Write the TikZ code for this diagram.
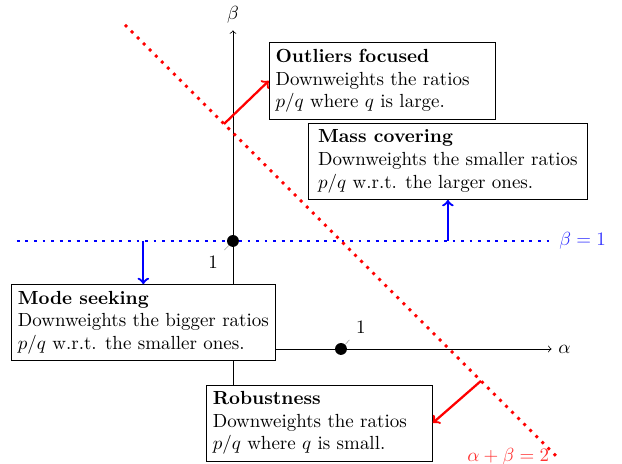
\documentclass[tikz,border=0pt]{standalone}
\usepackage{amsmath}
\usepackage{amssymb}
\usetikzlibrary{positioning}
\usetikzlibrary{calc}

\begin{document}
\begin{tikzpicture}[x=2cm, y=2cm,
    infobox/.style={draw=black, fill=white, align=left},
    dot/.style={circle, fill=black, inner sep=0pt, minimum size=0.22cm},
    bound/.style={line width=1.5pt, dash pattern=on 1.5pt off 3pt},
    push/.style={->, very thick},
    onepin/.style={pin={[pin edge={gray}, pin distance=3pt]#1:$1$}}]
      \useasboundingbox (-2.157,-1.056) rectangle (3.602,3.231);
      % Length of the axes
      \def\axlen{2.95}
      % Draw the axes
      \draw[->] (-1,0) -- (\axlen,0) node[right] (alab) {$\alpha$};
      \draw[->] (0,-1) -- (0,\axlen) node[above] (blab) {$\beta$};
      % The two boundary lines
      \draw[bound, blue] (-2,1) -- (\axlen,1) coordinate (bend) node[right, text=blue!80] (bline) {$\beta=1$};
      \draw[bound, red] (-1,3) -- (3,-1) coordinate (rend) node[left, text=red!80] (rline) {$\alpha+\beta=2$};
      % Points where the arrows start
      \coordinate (ofoc) at (-0.083,2.083);
      \coordinate (robu) at (2.296,-0.296);
      \coordinate (mcov) at (1.99,1);
      \coordinate (mseek) at (-0.83,1);
      % Boxes
      \node[infobox, text width=3.95cm, anchor=west] (outl) at ($(ofoc)+(0.415,0.4)$)
        {\textbf{Outliers focused}\\Downweights the ratios\\$p/q$ where $q$ is large.};
      \node[infobox, inner xsep=5pt, anchor=south] (mass) at (1.99,1.38)
        {\textbf{Mass covering}\\Downweights the smaller ratios\\$p/q$ w.r.t. the larger ones.};
      \node[infobox, anchor=north] (mode) at (-0.83,0.6)
        {\textbf{Mode seeking}\\Downweights the bigger ratios\\$p/q$ w.r.t. the smaller ones.};
      \node[infobox, text width=3.95cm, anchor=east] (robust) at (1.85,-0.685)
        {\textbf{Robustness}\\Downweights the ratios\\$p/q$ where $q$ is small.};
      % Arrows from the lines to the boxes
      \draw[push, red] (ofoc) -- (outl.west);
      \draw[push, red] (robu) -- (robust.east);
      \draw[push, blue] (mcov) -- (mass.south);
      \draw[push, blue] (mseek) -- (mode.north);
      % Unit points on the axes
      \node[dot, onepin=45] (one_a) at (1,0) {};
      \node[dot, onepin=225] (one_b) at (0,1) {};
    \end{tikzpicture}
\end{document}
